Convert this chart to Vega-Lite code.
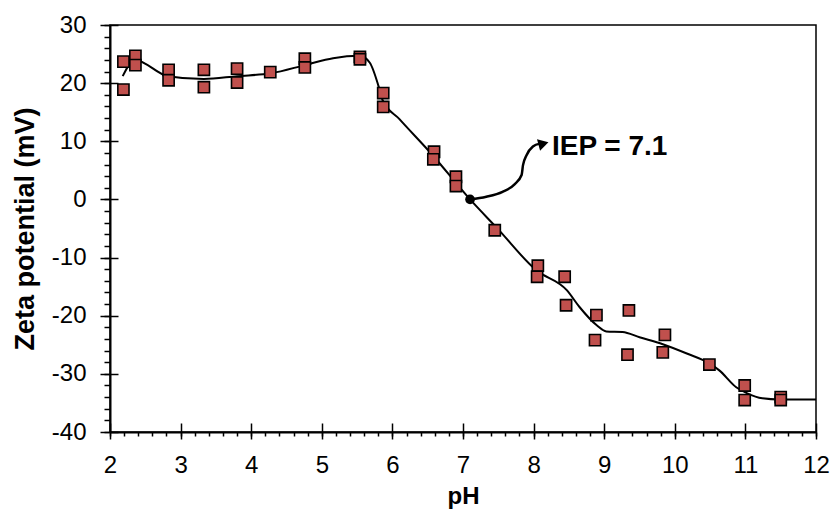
{
  "$schema": "https://vega.github.io/schema/vega-lite/v6.json",
  "width": 706,
  "height": 407,
  "autosize": {"type": "none"},
  "padding": {"left": 110, "top": 25, "right": 20, "bottom": 82},
  "background": "white",
  "config": {
    "view": {"stroke": "black", "strokeWidth": 1.5},
    "axis": {
      "labelFont": "Liberation Sans",
      "labelFontSize": 24,
      "labelColor": "black",
      "titleFont": "Liberation Sans",
      "titleFontSize": 24,
      "titleFontWeight": "bold",
      "titleColor": "black",
      "domainColor": "black",
      "domainWidth": 2,
      "tickColor": "black",
      "tickWidth": 1.5,
      "grid": false,
      "labelOverlap": false,
      "labelFlush": false
    }
  },
  "datasets": {
    "curve": [
      {"pH": 2.18, "mV": 21.2}, {"pH": 2.35, "mV": 24.0}, {"pH": 2.82, "mV": 21.2},
      {"pH": 3.33, "mV": 20.7}, {"pH": 3.80, "mV": 21.2}, {"pH": 4.28, "mV": 21.7},
      {"pH": 4.76, "mV": 23.1}, {"pH": 5.16, "mV": 24.3}, {"pH": 5.54, "mV": 24.7},
      {"pH": 5.68, "mV": 23.5}, {"pH": 5.82, "mV": 18.8}, {"pH": 5.86, "mV": 17.1},
      {"pH": 6.10, "mV": 13.8}, {"pH": 6.57, "mV": 7.6}, {"pH": 7.10, "mV": 0.0},
      {"pH": 7.48, "mV": -4.9}, {"pH": 8.04, "mV": -12.2}, {"pH": 8.47, "mV": -15.6},
      {"pH": 8.65, "mV": -18.5}, {"pH": 8.89, "mV": -21.6}, {"pH": 9.03, "mV": -22.7},
      {"pH": 9.26, "mV": -22.8}, {"pH": 9.50, "mV": -23.7}, {"pH": 9.83, "mV": -24.9},
      {"pH": 10.17, "mV": -26.5}, {"pH": 10.49, "mV": -28.2}, {"pH": 10.63, "mV": -29.4},
      {"pH": 10.87, "mV": -32.3}, {"pH": 11.02, "mV": -33.3}, {"pH": 11.24, "mV": -34.2},
      {"pH": 11.48, "mV": -34.4}, {"pH": 12.0, "mV": -34.4}
    ],
    "points": [
      {"pH": 2.19, "mV": 23.7}, {"pH": 2.19, "mV": 18.9},
      {"pH": 2.36, "mV": 24.7}, {"pH": 2.36, "mV": 23.1},
      {"pH": 2.83, "mV": 22.3}, {"pH": 2.83, "mV": 20.5},
      {"pH": 3.33, "mV": 22.3}, {"pH": 3.33, "mV": 19.3},
      {"pH": 3.80, "mV": 22.5}, {"pH": 3.80, "mV": 20.1},
      {"pH": 4.27, "mV": 21.9},
      {"pH": 4.76, "mV": 24.2}, {"pH": 4.76, "mV": 22.7},
      {"pH": 5.54, "mV": 24.5}, {"pH": 5.54, "mV": 24.1},
      {"pH": 5.87, "mV": 18.3}, {"pH": 5.87, "mV": 15.9},
      {"pH": 6.59, "mV": 8.2}, {"pH": 6.58, "mV": 6.9},
      {"pH": 6.90, "mV": 3.9}, {"pH": 6.90, "mV": 2.3},
      {"pH": 7.45, "mV": -5.3},
      {"pH": 8.06, "mV": -11.4}, {"pH": 8.05, "mV": -13.3},
      {"pH": 8.44, "mV": -13.3}, {"pH": 8.46, "mV": -18.2},
      {"pH": 8.89, "mV": -19.9}, {"pH": 8.87, "mV": -24.2},
      {"pH": 9.35, "mV": -19.1}, {"pH": 9.33, "mV": -26.7},
      {"pH": 9.86, "mV": -23.3}, {"pH": 9.83, "mV": -26.3},
      {"pH": 10.49, "mV": -28.4},
      {"pH": 10.99, "mV": -32.0}, {"pH": 10.99, "mV": -34.5},
      {"pH": 11.50, "mV": -34.0}, {"pH": 11.50, "mV": -34.5}
    ],
    "arrow": [
      {"pH": 7.10, "mV": 0.0}, {"pH": 7.33, "mV": 0.45}, {"pH": 7.56, "mV": 1.3},
      {"pH": 7.73, "mV": 2.6}, {"pH": 7.83, "mV": 4.2}, {"pH": 7.85, "mV": 5.9},
      {"pH": 7.90, "mV": 7.6}, {"pH": 7.99, "mV": 9.1}, {"pH": 8.09, "mV": 9.6}
    ],
    "iep": [{"pH": 7.1, "mV": 0}],
    "head": [{"pH": 8.14, "mV": 9.6}],
    "label": [{"pH": 8.26, "mV": 7.6, "text": "IEP = 7.1"}]
  },
  "layer": [
    {
      "data": {"name": "curve"},
      "mark": {"type": "line", "interpolate": "monotone", "color": "black", "strokeWidth": 2},
      "encoding": {
        "x": {
          "field": "pH", "type": "quantitative",
          "scale": {"domain": [2, 12], "nice": false, "zero": false},
          "axis": {
            "orient": "bottom", "title": "pH",
            "values": [2, 3, 4, 5, 6, 7, 8, 9, 10, 11, 12],
            "tickSize": 7, "labelPadding": 14, "titlePadding": 7
          }
        },
        "y": {
          "field": "mV", "type": "quantitative",
          "scale": {"domain": [-40, 30], "nice": false, "zero": false},
          "axis": {
            "orient": "left", "title": "Zeta potential (mV)",
            "values": [-40, -30, -20, -10, 0, 10, 20, 30],
            "labelExpr": "'' + datum.value",
            "tickSize": 10, "labelPadding": 14, "titlePadding": 12,
            "titleFontSize": 27
          }
        }
      }
    },
    {
      "data": {"name": "points"},
      "mark": {"type": "point", "shape": "square", "filled": true, "fill": "#C0504D", "stroke": "black", "strokeWidth": 1.6, "size": 125, "opacity": 1},
      "encoding": {
        "x": {
          "field": "pH", "type": "quantitative",
          "axis": {
            "orient": "bottom", "title": null, "labels": false, "domain": false,
            "values": [2, 2.2, 2.4, 2.6, 2.8, 3, 3.2, 3.4, 3.6, 3.8, 4, 4.2, 4.4, 4.6, 4.8, 5, 5.2, 5.4, 5.6, 5.8, 6, 6.2, 6.4, 6.6, 6.8, 7, 7.2, 7.4, 7.6, 7.8, 8, 8.2, 8.4, 8.6, 8.8, 9, 9.2, 9.4, 9.6, 9.8, 10, 10.2, 10.4, 10.6, 10.8, 11, 11.2, 11.4, 11.6, 11.8, 12],
            "tickSize": 4
          }
        },
        "y": {
          "field": "mV", "type": "quantitative",
          "axis": {
            "orient": "left", "title": null, "labels": false, "domain": false,
            "values": [-40, -38, -36, -34, -32, -30, -28, -26, -24, -22, -20, -18, -16, -14, -12, -10, -8, -6, -4, -2, 0, 2, 4, 6, 8, 10, 12, 14, 16, 18, 20, 22, 24, 26, 28, 30],
            "tickSize": 6
          }
        }
      }
    },
    {
      "data": {"name": "arrow"},
      "mark": {"type": "line", "interpolate": "monotone", "color": "black", "strokeWidth": 2.5},
      "encoding": {
        "x": {
          "field": "pH", "type": "quantitative",
          "axis": {
            "orient": "bottom", "title": null, "labels": false, "domain": false,
            "values": [2, 3, 4, 5, 6, 7, 8, 9, 10, 11, 12],
            "tickSize": -9
          }
        },
        "y": {
          "field": "mV", "type": "quantitative",
          "axis": {
            "orient": "left", "title": null, "labels": false, "domain": false,
            "values": [-40, -30, -20, -10, 0, 10, 20, 30],
            "tickSize": -8
          }
        }
      }
    },
    {
      "data": {"name": "iep"},
      "mark": {"type": "point", "shape": "circle", "filled": true, "color": "black", "size": 95, "opacity": 1},
      "encoding": {
        "x": {"field": "pH", "type": "quantitative", "axis": null},
        "y": {"field": "mV", "type": "quantitative", "axis": null}
      }
    },
    {
      "data": {"name": "head"},
      "mark": {"type": "point", "shape": "triangle-right", "filled": true, "color": "black", "size": 140, "angle": -15, "opacity": 1},
      "encoding": {
        "x": {"field": "pH", "type": "quantitative", "axis": null},
        "y": {"field": "mV", "type": "quantitative", "axis": null}
      }
    },
    {
      "data": {"name": "label"},
      "mark": {"type": "text", "align": "left", "baseline": "alphabetic", "font": "Liberation Sans", "fontSize": 28, "fontWeight": "bold", "color": "black"},
      "encoding": {
        "x": {"field": "pH", "type": "quantitative", "axis": null},
        "y": {"field": "mV", "type": "quantitative", "axis": null},
        "text": {"field": "text"}
      }
    }
  ],
  "resolve": {"axis": {"x": "independent", "y": "independent"}}
}
